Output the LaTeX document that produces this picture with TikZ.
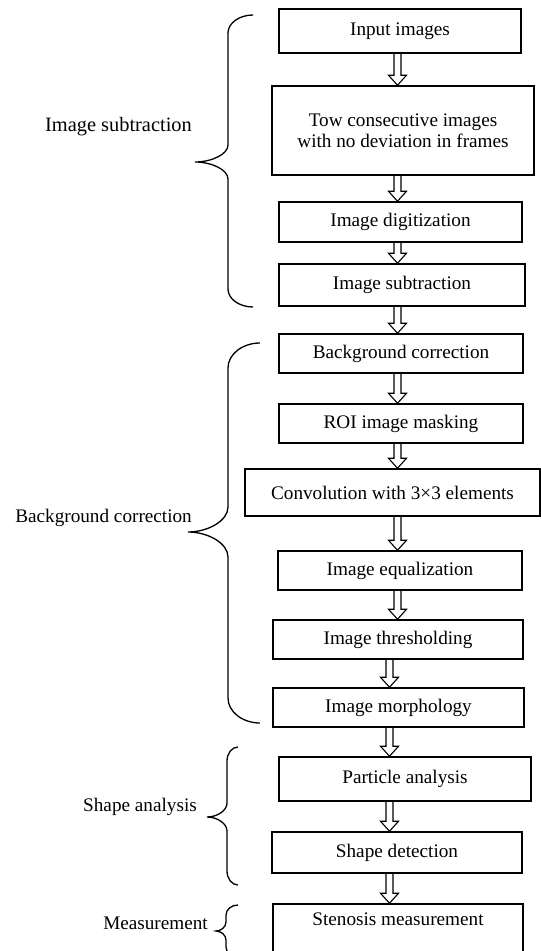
\documentclass[tikz,border=0pt]{standalone}
\usepackage{fontspec}
\setmainfont{Liberation Serif}
\usetikzlibrary{calc}
\tikzset{
  box/.style={draw, line width=1.5pt, inner sep=0pt, align=center,
    font=\fontsize{19.2}{21.5}\selectfont},
  lbl/.style={inner sep=0pt, anchor=base east, font=\fontsize{19.2}{22}\selectfont},
  harrowline/.style={line width=1.1pt, line join=miter},
  bracel/.style={line width=1.3pt},
}
% hollow double-shaft arrow from node #1 to node #2 at x = #3
\newcommand{\harr}[3]{%
  \draw[harrowline] let \p1=(#1.south), \p2=(#2.north) in
    (#3pt-3.5pt,\y1) -- (#3pt-3.5pt,\y2+10pt) -- (#3pt-9pt,\y2+10pt) -- (#3pt,\y2)
    -- (#3pt+9pt,\y2+10pt) -- (#3pt+3.5pt,\y2+10pt) -- (#3pt+3.5pt,\y1);}
% curly brace: xv, xhook, xtip, ytop, ytip, ybot, rhook, rtip
\newcommand{\cbrace}[8]{%
  \draw[bracel] (#2,#4) .. controls ({#1+0.45*(#2-#1)},#4) and (#1,{#4+0.45*#7}) .. (#1,{#4+#7})
    -- (#1,{#5-#8}) .. controls (#1,{#5-0.45*#8}) and ({#3+0.5*(#1-#3)},#5) .. (#3,#5)
    .. controls ({#3+0.5*(#1-#3)},#5) and (#1,{#5+0.45*#8}) .. (#1,{#5+#8})
    -- (#1,{#6-#7}) .. controls (#1,{#6-0.45*#7}) and ({#1+0.45*(#2-#1)},#6) .. (#2,#6);}
\begin{document}
\begin{tikzpicture}[x=1pt,y=-1pt]
\useasboundingbox (0,0) rectangle (541,951);
\clip (0,0) rectangle (541,951);
\fill[white] (0,0) rectangle (541,951);

\node[box, minimum width=242, minimum height=44] (inp) at (400,31) {Input images};
\node[box, minimum width=262, minimum height=89] (tow) at (403,130.5) {Tow consecutive images\\with no deviation in frames};
\node[box, minimum width=243, minimum height=40] (dig) at (400.5,222) {Image digitization};
\node[box, minimum width=246, minimum height=42] (sub) at (402,285) {Image subtraction};
\node[box, minimum width=244, minimum height=39] (bkg) at (401,353.5) {Background correction};
\node[box, minimum width=244, minimum height=39] (roi) at (401,423.5) {ROI image masking};
\node[box, minimum width=295, minimum height=47] (conv) at (392.5,492.5) {Convolution with 3×3 elements};
\node[box, minimum width=244, minimum height=39] (equ) at (400,570.5) {Image equalization};
\node[box, minimum width=250, minimum height=39] (thr) at (398,639.5) {Image thresholding};
\node[box, minimum width=251, minimum height=39] (mor) at (398.5,707.5) {Image morphology};
\node[box, minimum width=252, minimum height=44] (par) at (405,779) {Particle analysis};
\node[box, minimum width=250, minimum height=41] (shp) at (397,852.5) {Shape detection};
\node[box, minimum width=250, minimum height=50, text depth=19pt] (ste) at (398,929) {Stenosis measurement};

\harr{inp}{tow}{397.5}
\harr{tow}{dig}{397.5}
\harr{dig}{sub}{397.5}
\harr{sub}{bkg}{397.5}
\harr{bkg}{roi}{397.5}
\harr{roi}{conv}{397.5}
\harr{conv}{equ}{397.5}
\harr{equ}{thr}{397.5}
\harr{thr}{mor}{389.5}
\harr{mor}{par}{389.5}
\harr{par}{shp}{389.5}
\harr{shp}{ste}{389.5}

\cbrace{228}{253}{195}{15}{162}{307}{18}{17}
\cbrace{228}{260}{188}{343}{532}{723}{25}{25}
\cbrace{227}{238}{207}{747}{817}{885}{14}{14}
\cbrace{226}{238}{216}{905}{931}{957}{10}{9}

\node[lbl, font=\fontsize{20.4}{22}\selectfont] (l1) at (192,131) {Image subtraction};
\node[lbl] (l2) at (192,522) {Background correction};
\node[lbl] (l3) at (197,811) {Shape analysis};
\node[lbl] (l4) at (208,929) {Measurement};
\end{tikzpicture}
\end{document}
